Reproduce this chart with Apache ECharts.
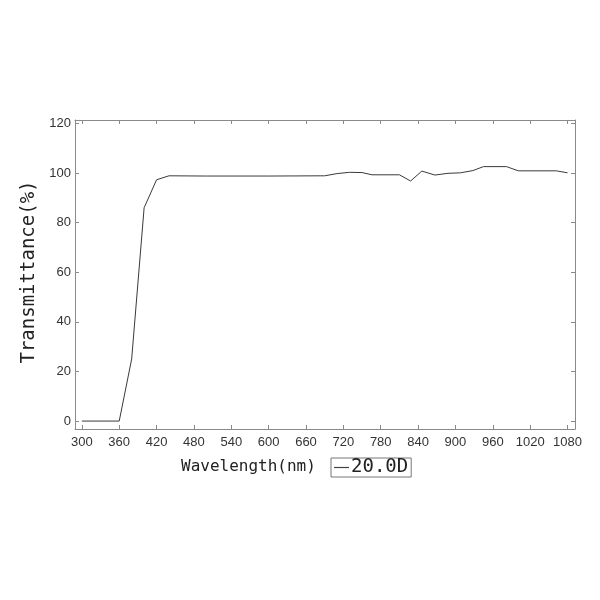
<!DOCTYPE html>
<html>
<head>
<meta charset="utf-8">
<script src="https://cdn.jsdelivr.net/npm/echarts@6/dist/echarts.min.js"></script>
<style>html,body{margin:0;padding:0;background:#fff;}#c{width:600px;height:600px;}</style>
</head>
<body>
<div id="c"></div>
<script>
const wavelengths = [300, 360, 380, 400, 420, 440, 500, 600, 690, 710, 730, 750, 766, 810, 828, 846, 867, 888, 908, 928, 945, 982, 1001, 1062, 1080];
const transmittance = [0, 0, 25, 86, 97.3, 98.9, 98.8, 98.8, 98.9, 99.8, 100.3, 100.2, 99.3, 99.3, 96.8, 100.8, 99.2, 99.9, 100.1, 101.0, 102.6, 102.6, 100.9, 100.9, 100.1];
const xTicks = [300, 360, 420, 480, 540, 600, 660, 720, 780, 840, 900, 960, 1020, 1080];
const yTicks = [0, 20, 40, 60, 80, 100, 120];
const seriesName = '20.0D';
const xTitle = 'Wavelength(nm)';
const yTitle = 'Transmittance(%)';

const axisColor = '#8a8a8a';
const mono = '"DejaVu Sans Mono", "Liberation Mono", monospace';
const sans = '"Liberation Sans", Arial, sans-serif';

const chart = echarts.init(document.getElementById('c'), null, {renderer: 'canvas'});
function xBase() {
  return {
    type: 'value', min: 289, max: 1092,
    axisLine: {show: true, onZero: false, lineStyle: {color: axisColor, width: 1}},
    splitLine: {show: false},
    axisTick: {show: true, inside: true, length: 4, customValues: xTicks, lineStyle: {color: axisColor}}
  };
}
function yBase() {
  return {
    type: 'value', min: -3.2, max: 121.4,
    axisLine: {show: true, onZero: false, lineStyle: {color: axisColor, width: 1}},
    splitLine: {show: false},
    axisTick: {show: true, inside: true, length: 4, customValues: yTicks, lineStyle: {color: axisColor}}
  };
}
chart.setOption({
  animation: false,
  backgroundColor: '#fff',
  grid: {left: 75, top: 120, right: 25, bottom: 171, containLabel: false},
  xAxis: [
    Object.assign(xBase(), {position: 'bottom',
      axisLabel: {show: true, customValues: xTicks, formatter: v => String(v), color: '#333', fontFamily: sans, fontSize: 13, margin: 7}}),
    Object.assign(xBase(), {position: 'top', axisLabel: {show: false}})
  ],
  yAxis: [
    Object.assign(yBase(), {position: 'left',
      axisLabel: {show: true, customValues: yTicks, formatter: v => String(v), color: '#333', fontFamily: sans, fontSize: 13, margin: 4}}),
    Object.assign(yBase(), {position: 'right', axisLabel: {show: false}})
  ],
  legend: {
    show: true, left: 331, top: 458,
    borderColor: '#777', borderWidth: 1, padding: [0, 3, 0, 3],
    icon: 'rect', itemWidth: 15, itemHeight: 1.2,
    textStyle: {fontFamily: mono, fontSize: 19, color: '#222', padding: [0, 0, 0, -3]},
    data: [{name: seriesName, itemStyle: {color: '#444'}}]
  },
  graphic: [
    {type: 'text', left: 181, top: 459, style: {text: xTitle, font: '16px ' + mono, fill: '#222'}},
    {type: 'text', x: 29, y: 272, rotation: Math.PI / 2, style: {text: yTitle, font: '19px ' + mono, fill: '#222', align: 'center', verticalAlign: 'middle'}}
  ],
  series: [{
    name: seriesName, type: 'line', xAxisIndex: 0, yAxisIndex: 0,
    symbol: 'none', showSymbol: false,
    lineStyle: {color: '#3a3a3a', width: 1},
    itemStyle: {color: '#3a3a3a'},
    data: wavelengths.map((w, i) => [w, transmittance[i]])
  }]
});
</script>
</body>
</html>
